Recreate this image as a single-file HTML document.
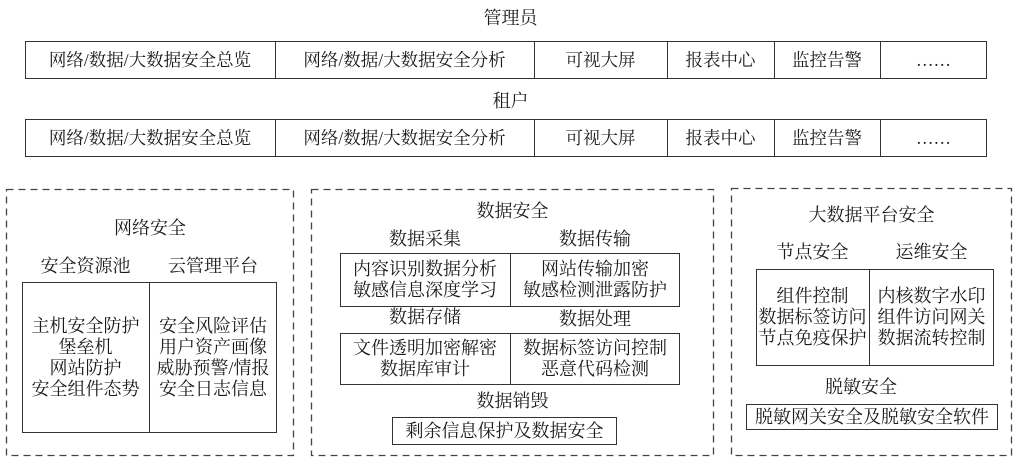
<!DOCTYPE html>
<html><head><meta charset="utf-8"><style>
body{margin:0;width:1021px;height:467px;background:#fff;position:relative;overflow:hidden;font-family:"Liberation Serif","Noto Serif CJK SC","Noto Sans CJK SC",serif;color:#1a1a1a}
.t{position:absolute;text-align:center;white-space:nowrap;font-size:18px;line-height:20px}
.box{position:absolute;border:1.3px solid #333;box-sizing:border-box}
.vl{position:absolute;width:0;border-left:1.3px solid #333}
.c{position:absolute;display:flex;align-items:center;justify-content:center;text-align:center;font-size:18px;line-height:21px;white-space:nowrap}
.top .c{font-size:17.5px}
svg{position:absolute;left:0;top:0}
</style></head><body>
<svg width="1021" height="467"><g fill="none" stroke="#444" stroke-width="1.3" stroke-dasharray="7,5">
<rect x="6.5" y="189.5" width="287" height="266"/>
<rect x="311.5" y="189.5" width="402" height="266"/>
<rect x="731.5" y="188.5" width="280" height="267"/>
</g></svg>
<div class="t" style="left:0;width:1021px;top:8px">管理员</div>
<div class="top">
<div class="box" style="left:25px;top:41px;width:962px;height:38px"></div>
<div class="c" style="left:25px;top:41px;width:250px;height:38px">网络/数据/大数据安全总览</div>
<div class="c" style="left:275px;top:41px;width:259px;height:38px">网络/数据/大数据安全分析</div>
<div class="c" style="left:534px;top:41px;width:133px;height:38px">可视大屏</div>
<div class="c" style="left:667px;top:41px;width:107px;height:38px">报表中心</div>
<div class="c" style="left:774px;top:41px;width:106px;height:38px">监控告警</div>
<div class="c" style="left:880px;top:41px;width:107px;height:38px">……</div>
<div class="vl" style="left:275px;top:41px;height:38px"></div><div class="vl" style="left:534px;top:41px;height:38px"></div><div class="vl" style="left:667px;top:41px;height:38px"></div><div class="vl" style="left:774px;top:41px;height:38px"></div><div class="vl" style="left:880px;top:41px;height:38px"></div>

<div class="t" style="left:0;width:1021px;top:91px">租户</div>
<div class="box" style="left:25px;top:119px;width:962px;height:38px"></div>
<div class="c" style="left:25px;top:119px;width:250px;height:38px">网络/数据/大数据安全总览</div>
<div class="c" style="left:275px;top:119px;width:259px;height:38px">网络/数据/大数据安全分析</div>
<div class="c" style="left:534px;top:119px;width:133px;height:38px">可视大屏</div>
<div class="c" style="left:667px;top:119px;width:107px;height:38px">报表中心</div>
<div class="c" style="left:774px;top:119px;width:106px;height:38px">监控告警</div>
<div class="c" style="left:880px;top:119px;width:107px;height:38px">……</div>
<div class="vl" style="left:275px;top:119px;height:38px"></div><div class="vl" style="left:534px;top:119px;height:38px"></div><div class="vl" style="left:667px;top:119px;height:38px"></div><div class="vl" style="left:774px;top:119px;height:38px"></div><div class="vl" style="left:880px;top:119px;height:38px"></div>
</div>

<!-- 网络安全 -->
<div class="t" style="left:6px;width:288px;top:218px">网络安全</div>
<div class="t" style="left:22px;width:127px;top:256px">安全资源池</div>
<div class="t" style="left:149px;width:128px;top:256px">云管理平台</div>
<div class="box" style="left:22px;top:282px;width:255px;height:151px"></div>
<div class="vl" style="left:149px;top:282px;height:151px"></div>
<div class="c" style="left:22px;top:282px;width:127px;height:151px">主机安全防护<br>堡垒机<br>网站防护<br>安全组件态势</div>
<div class="c" style="left:149px;top:282px;width:128px;height:151px">安全风险评估<br>用户资产画像<br>威胁预警/情报<br>安全日志信息</div>

<!-- 数据安全 -->
<div class="t" style="left:311px;width:403px;top:201px">数据安全</div>
<div class="t" style="left:340px;width:170px;top:229px">数据采集</div>
<div class="t" style="left:510px;width:170px;top:229px">数据传输</div>
<div class="box" style="left:340px;top:253px;width:340px;height:54px"></div>
<div class="vl" style="left:510px;top:253px;height:54px"></div>
<div class="c" style="left:340px;top:253px;width:170px;height:54px">内容识别数据分析<br>敏感信息深度学习</div>
<div class="c" style="left:510px;top:253px;width:170px;height:54px">网站传输加密<br>敏感检测泄露防护</div>
<div class="t" style="left:340px;width:170px;top:307px">数据存储</div>
<div class="t" style="left:510px;width:170px;top:309px">数据处理</div>
<div class="box" style="left:340px;top:333px;width:340px;height:52px"></div>
<div class="vl" style="left:510px;top:333px;height:52px"></div>
<div class="c" style="left:340px;top:333px;width:170px;height:52px">文件透明加密解密<br>数据库审计</div>
<div class="c" style="left:510px;top:333px;width:170px;height:52px">数据标签访问控制<br>恶意代码检测</div>
<div class="t" style="left:311px;width:403px;top:391px">数据销毁</div>
<div class="box" style="left:392px;top:417px;width:225px;height:28px"></div>
<div class="c" style="left:392px;top:417px;width:225px;height:28px">剩余信息保护及数据安全</div>

<!-- 大数据平台安全 -->
<div class="t" style="left:731px;width:281px;top:205px">大数据平台安全</div>
<div class="t" style="left:756px;width:113px;top:242px">节点安全</div>
<div class="t" style="left:869px;width:125px;top:242px">运维安全</div>
<div class="box" style="left:756px;top:269px;width:238px;height:97px"></div>
<div class="vl" style="left:869px;top:269px;height:97px"></div>
<div class="c" style="left:756px;top:269px;width:113px;height:97px">组件控制<br>数据标签访问<br>节点免疫保护</div>
<div class="c" style="left:869px;top:269px;width:125px;height:97px">内核数字水印<br>组件访问网关<br>数据流转控制</div>
<div class="t" style="left:731px;width:260px;top:377px">脱敏安全</div>
<div class="box" style="left:746px;top:404px;width:252px;height:26px"></div>
<div class="c" style="left:746px;top:404px;width:252px;height:26px">脱敏网关安全及脱敏安全软件</div>
</body></html>
